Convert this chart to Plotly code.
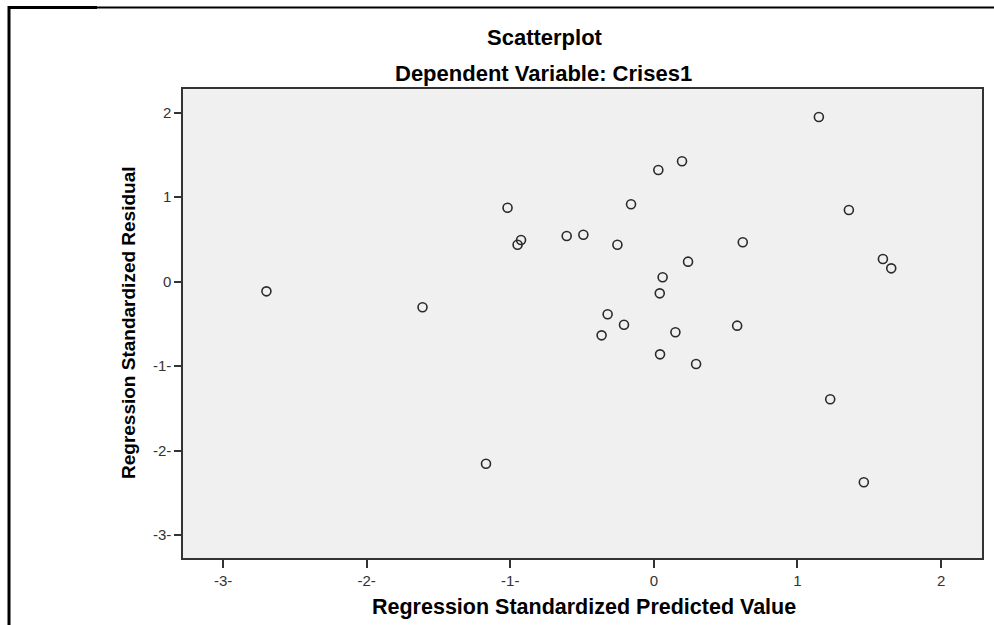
import plotly.graph_objects as go

# Data
pred = [-2.698, -1.611, -1.169, -1.019, -0.925, -0.949, -0.607, -0.491, -0.254, -0.159,
        0.031, 0.196, 0.619, 0.238, 0.061, 0.041, -0.322, -0.208, -0.364, 0.150,
        0.580, 0.043, 0.294, 1.149, 1.358, 1.595, 1.653, 1.228, 1.462]
resid = [-0.114, -0.303, -2.154, 0.876, 0.493, 0.438, 0.541, 0.556, 0.438, 0.916,
         1.322, 1.425, 0.466, 0.237, 0.052, -0.138, -0.386, -0.509, -0.635, -0.599,
         -0.520, -0.860, -0.974, 1.949, 0.849, 0.269, 0.158, -1.392, -2.374]

x_ticks = [-3, -2, -1, 0, 1, 2]
x_labels = ["-3-", "-2-", "-1-", "0", "1", "2"]
y_ticks = [-3, -2, -1, 0, 1, 2]
y_labels = ["-3-", "-2-", "-1-", "0", "1", "2"]

W, H = 994, 625
FONT = "Liberation Sans, Arial, sans-serif"
AX = "#333333"

fig = go.Figure(go.Scatter(
    x=pred, y=resid, mode="markers",
    marker=dict(symbol="circle-open", size=9, color="#2a2a2a", line=dict(width=1.6)),
    hoverinfo="skip", showlegend=False))

def px_x(p):
    return p / W

def px_y(p):
    return 1 - p / H

def label(text, x, y, size, angle=0):
    return dict(text=text, x=px_x(x), y=px_y(y), xref="paper", yref="paper",
                xanchor="center", yanchor="middle", showarrow=False, textangle=angle,
                font=dict(size=size, color="black", family=FONT))

fig.update_layout(
    width=W, height=H,
    margin=dict(l=0, r=0, t=0, b=0),
    paper_bgcolor="white",
    plot_bgcolor="#F0F0F0",
    font=dict(family=FONT, color=AX),
    xaxis=dict(domain=[px_x(183), px_x(982)], range=[-3.279, 2.285],
               tickvals=x_ticks, ticktext=x_labels, showgrid=False, zeroline=False,
               showline=True, mirror=True, linecolor=AX, linewidth=1.5,
               ticks="outside", ticklen=8, tickwidth=1.5, tickcolor=AX,
               tickfont=dict(size=15, color=AX)),
    yaxis=dict(domain=[px_y(558), px_y(89.3)], range=[-3.27, 2.277],
               tickvals=y_ticks, ticktext=y_labels, showgrid=False, zeroline=False,
               showline=True, mirror=True, linecolor=AX, linewidth=1.5,
               ticks="outside", ticklen=7, tickwidth=1.5, tickcolor=AX,
               tickfont=dict(size=15, color=AX)),
    annotations=[
        label("<b>Scatterplot</b>", 545, 37, 22),
        label("<b>Dependent Variable: Crises1</b>", 543, 73, 22),
        label("<b>Regression Standardized Predicted Value</b>", 584, 607, 21.5),
        label("<b>Regression Standardized Residual</b>", 128, 323, 19, angle=-90),
    ],
    shapes=[
        dict(type="line", xref="paper", yref="paper", x0=px_x(9), x1=px_x(9),
             y0=px_y(6), y1=px_y(625), line=dict(color="black", width=3)),
        dict(type="line", xref="paper", yref="paper", x0=px_x(8), x1=px_x(97),
             y0=px_y(7.5), y1=px_y(7.5), line=dict(color="black", width=3)),
        dict(type="line", xref="paper", yref="paper", x0=px_x(97), x1=1,
             y0=px_y(7.5), y1=px_y(7.5), line=dict(color="black", width=2)),
    ],
)

fig.write_html("out.html", config={"displayModeBar": False},
               post_script="document.body.style.margin='0';")
